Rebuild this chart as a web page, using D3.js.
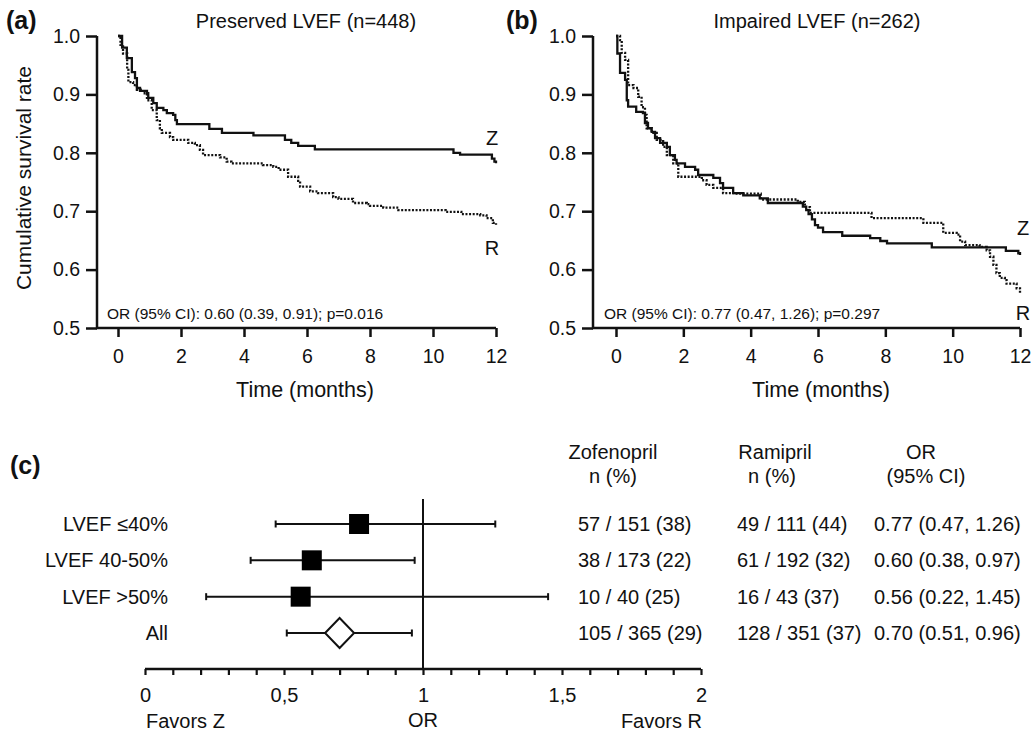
<!DOCTYPE html>
<html>
<head>
<meta charset="utf-8">
<script src="https://cdn.jsdelivr.net/npm/d3@7"></script>
<style>
  body { margin: 0; background: #fff; }
  svg text { font-family: "Liberation Sans", Arial, sans-serif; fill: #111; }
</style>
</head>
<body>
<svg id="fig" width="1033" height="733"></svg>
<script>
// ---- data ----
const timeTicks = [0, 2, 4, 6, 8, 10, 12];
const survTicks = [0.5, 0.6, 0.7, 0.8, 0.9, 1.0];

// Kaplan-Meier step points [month, survival], preserved LVEF
const preservedZ = [[0,1.0],[0.13,0.98],[0.28,0.962],[0.44,0.938],[0.54,0.928],[0.6,0.911],[0.7,0.906],
  [0.92,0.902],[0.96,0.894],[1.12,0.885],[1.23,0.877],[1.44,0.873],[1.55,0.868],[1.75,0.865],[1.82,0.856],
  [1.87,0.849],[2.9,0.841],[3.3,0.834],[4.3,0.83],[5.3,0.822],[5.5,0.817],[5.72,0.812],[6.25,0.806],
  [10.65,0.8],[10.86,0.797],[11.87,0.79],[11.95,0.785],[12,0.782]];
const preservedR = [[0,1.0],[0.08,0.985],[0.16,0.97],[0.29,0.942],[0.33,0.921],[0.48,0.916],[0.6,0.908],
  [0.8,0.902],[0.92,0.89],[1.07,0.873],[1.23,0.856],[1.33,0.842],[1.39,0.834],[1.65,0.827],[1.75,0.822],
  [2.23,0.817],[2.44,0.813],[2.6,0.805],[2.7,0.796],[3.24,0.792],[3.45,0.785],[3.6,0.782],[4.6,0.779],
  [4.93,0.776],[5.1,0.771],[5.4,0.759],[5.72,0.752],[5.78,0.742],[6.1,0.734],[6.35,0.731],[6.83,0.724],
  [7.0,0.721],[7.46,0.714],[7.9,0.712],[8.0,0.709],[8.42,0.706],[8.9,0.702],[10.4,0.699],[10.9,0.695],
  [11.5,0.693],[11.7,0.688],[11.9,0.68],[12,0.677]];

// impaired LVEF
const impairedZ = [[0,1.0],[0.04,0.97],[0.12,0.937],[0.27,0.925],[0.32,0.89],[0.36,0.879],[0.6,0.87],
  [0.8,0.868],[0.86,0.851],[0.95,0.842],[1.06,0.836],[1.16,0.825],[1.31,0.817],[1.51,0.81],[1.6,0.796],
  [1.75,0.788],[1.8,0.782],[2.05,0.776],[2.35,0.771],[2.44,0.762],[2.89,0.757],[3.09,0.748],[3.18,0.74],
  [3.48,0.731],[3.78,0.727],[4.27,0.722],[4.51,0.714],[5.55,0.708],[5.65,0.702],[5.72,0.695],[5.82,0.686],
  [5.91,0.676],[6.0,0.672],[6.15,0.664],[6.72,0.658],[7.55,0.654],[7.85,0.649],[8.05,0.645],[9.38,0.638],
  [11.58,0.632],[11.95,0.628],[12,0.625]];
const impairedR = [[0,1.0],[0.12,0.993],[0.17,0.971],[0.27,0.959],[0.36,0.916],[0.52,0.911],[0.66,0.896],
  [0.76,0.878],[0.86,0.865],[0.91,0.842],[1.06,0.834],[1.21,0.822],[1.4,0.81],[1.51,0.796],[1.7,0.782],
  [1.85,0.759],[2.55,0.753],[2.69,0.745],[2.89,0.74],[3.18,0.731],[3.55,0.73],[4.3,0.72],[5.4,0.716],
  [5.61,0.707],[5.76,0.697],[7.59,0.688],[9.13,0.68],[9.72,0.663],[10.12,0.66],[10.22,0.648],[10.37,0.642],
  [10.8,0.639],[11.01,0.633],[11.11,0.622],[11.21,0.608],[11.3,0.594],[11.4,0.586],[11.55,0.582],
  [11.6,0.576],[11.9,0.568],[12,0.56]];

// forest plot
const subgroups = ['LVEF ≤40%', 'LVEF 40-50%', 'LVEF >50%', 'All'];
const orValues = [0.77, 0.60, 0.56, 0.70];
const ciLow = [0.47, 0.38, 0.22, 0.51];
const ciHigh = [1.26, 0.97, 1.45, 0.96];
const zofenoprilText = ['57 / 151 (38)', '38 / 173 (22)', '10 / 40 (25)', '105 / 365 (29)'];
const ramiprilText = ['49 / 111 (44)', '61 / 192 (32)', '16 / 43 (37)', '128 / 351 (37)'];
const orText = ['0.77 (0.47, 1.26)', '0.60 (0.38, 0.97)', '0.56 (0.22, 1.45)', '0.70 (0.51, 0.96)'];
const orTicks = d3.range(0, 21).map(i => i / 10);
const orMajorLabels = { 0: '0', 0.5: '0,5', 1: '1', 1.5: '1,5', 2: '2' };

const svg = d3.select('#fig');
svg.append('rect').attr('width', 1033).attr('height', 733).attr('fill', '#fff');

const y = d3.scaleLinear().domain([0.5, 1.0]).range([328, 36]);

function drawKM(p) {
  const g = svg.append('g');
  const x = d3.scaleLinear().domain([0, 12]).range([p.x0, p.x1]);

  // axes
  const yAx = g.append('g').attr('transform', `translate(${p.axisX},0)`)
    .call(d3.axisLeft(y).tickValues(survTicks).tickFormat(d3.format('.1f')).tickSize(11).tickPadding(6));
  const xAx = g.append('g').attr('transform', 'translate(0,328)')
    .call(d3.axisBottom(x).tickValues(timeTicks).tickSize(9).tickPadding(12));
  [yAx, xAx].forEach(a => {
    a.select('.domain').remove();
    a.attr('font-size', null).attr('font-family', null);
    a.selectAll('line').attr('stroke', '#111').attr('stroke-width', 2.5);
    a.selectAll('text').style('font-size', '19.5px').attr('fill', '#111');
  });
  g.append('path')
    .attr('d', `M${p.axisX},${y(1.0)}V328H${x(12)}`)
    .attr('fill', 'none').attr('stroke', '#111').attr('stroke-width', 2.5);

  const line = d3.line().x(d => x(d[0])).y(d => y(d[1])).curve(d3.curveStepAfter);
  g.append('path').datum(p.zData).attr('d', line)
    .attr('fill', 'none').attr('stroke', '#111').attr('stroke-width', 2.3);
  g.append('path').datum(p.rData).attr('d', line)
    .attr('fill', 'none').attr('stroke', '#111').attr('stroke-width', 2.3)
    .attr('stroke-dasharray', '2,1.6');

  g.append('text').attr('x', p.titleX).attr('y', 28).attr('text-anchor', 'middle')
    .style('font-size', '20px').text(p.title);
  g.append('text').attr('x', p.letterX).attr('y', 29)
    .style('font-size', '25px').style('font-weight', 'bold').text(p.letter);
  g.append('text').attr('x', p.xLabelX).attr('y', 397).attr('text-anchor', 'middle')
    .style('font-size', '21.5px').text('Time (months)');
  g.append('text').attr('x', p.noteX).attr('y', 319)
    .style('font-size', '15.5px').text(p.note);
  g.append('text').attr('x', p.labelX).attr('y', p.zLabelY).attr('text-anchor', 'middle')
    .style('font-size', '20px').text('Z');
  g.append('text').attr('x', p.labelX).attr('y', p.rLabelY).attr('text-anchor', 'middle')
    .style('font-size', '20px').text('R');
}

drawKM({
  axisX: 97, x0: 118, x1: 496, zData: preservedZ, rData: preservedR,
  title: 'Preserved LVEF (n=448)', titleX: 306, letter: '(a)', letterX: 6,
  xLabelX: 305, note: 'OR (95% CI): 0.60 (0.39, 0.91); p=0.016', noteX: 107,
  labelX: 492, zLabelY: 145, rLabelY: 255
});
drawKM({
  axisX: 593, x0: 616, x1: 1020, zData: impairedZ, rData: impairedR,
  title: 'Impaired LVEF (n=262)', titleX: 817, letter: '(b)', letterX: 506,
  xLabelX: 821, note: 'OR (95% CI): 0.77 (0.47, 1.26); p=0.297', noteX: 604,
  labelX: 1023, zLabelY: 235, rLabelY: 320
});

svg.append('text')
  .attr('transform', 'translate(31,178) rotate(-90)')
  .attr('text-anchor', 'middle').style('font-size', '21px')
  .text('Cumulative survival rate');

// ---- (c) forest plot ----
const fg = svg.append('g');
const fx = d3.scaleLinear().domain([0, 2]).range([145, 701]);
const fy = d3.scalePoint().domain(subgroups).range([524, 633]);

fg.append('text').attr('x', 10).attr('y', 474)
  .style('font-size', '25px').style('font-weight', 'bold').text('(c)');

const fAx = fg.append('g').attr('transform', 'translate(0,669)')
  .call(d3.axisBottom(fx).tickValues(orTicks)
    .tickFormat(d => orMajorLabels[Math.round(d * 10) / 10] || '')
    .tickSize(6).tickPadding(13));
fAx.select('.domain').remove();
fAx.attr('font-size', null).attr('font-family', null);
fAx.selectAll('line').attr('stroke', '#111').attr('stroke-width', 2.2);
fAx.selectAll('text').style('font-size', '20px').attr('fill', '#111');
fg.append('line').attr('x1', fx(0)).attr('x2', fx(2)).attr('y1', 669).attr('y2', 669)
  .attr('stroke', '#111').attr('stroke-width', 2.5);
fg.append('line').attr('x1', fx(1)).attr('x2', fx(1)).attr('y1', 499).attr('y2', 669)
  .attr('stroke', '#111').attr('stroke-width', 2);

subgroups.forEach((s, i) => {
  const cy = fy(s);
  fg.append('line').attr('x1', fx(ciLow[i])).attr('x2', fx(ciHigh[i]))
    .attr('y1', cy).attr('y2', cy).attr('stroke', '#111').attr('stroke-width', 2);
  [ciLow[i], ciHigh[i]].forEach(v => {
    fg.append('line').attr('x1', fx(v)).attr('x2', fx(v))
      .attr('y1', cy - 3.5).attr('y2', cy + 3.5).attr('stroke', '#111').attr('stroke-width', 2);
  });
  const cx = fx(orValues[i]);
  if (s === 'All') {
    fg.append('path')
      .attr('d', `M${cx - 14.5},${cy}L${cx},${cy - 15}L${cx + 14.5},${cy}L${cx},${cy + 15}Z`)
      .attr('fill', '#fff').attr('stroke', '#111').attr('stroke-width', 2);
  } else {
    fg.append('rect').attr('x', cx - 10).attr('y', cy - 10).attr('width', 20).attr('height', 20)
      .attr('fill', '#000');
  }
  fg.append('text').attr('x', 168).attr('y', cy + 7).attr('text-anchor', 'end')
    .style('font-size', '20px').text(s);
  fg.append('text').attr('x', 578).attr('y', cy + 7).style('font-size', '20px').text(zofenoprilText[i]);
  fg.append('text').attr('x', 737).attr('y', cy + 7).style('font-size', '20px').text(ramiprilText[i]);
  fg.append('text').attr('x', 874).attr('y', cy + 7).style('font-size', '20px').text(orText[i]);
});

const headers = [
  ['Zofenopril', 613, 459], ['n (%)', 613, 483],
  ['Ramipril', 775, 459], ['n (%)', 772, 483],
  ['OR', 921, 459], ['(95% CI)', 926, 483]
];
headers.forEach(h => {
  fg.append('text').attr('x', h[1]).attr('y', h[2]).attr('text-anchor', 'middle')
    .style('font-size', '20px').text(h[0]);
});

fg.append('text').attr('x', 146).attr('y', 728).style('font-size', '20px').text('Favors Z');
fg.append('text').attr('x', fx(1)).attr('y', 727).attr('text-anchor', 'middle')
  .style('font-size', '20px').text('OR');
fg.append('text').attr('x', 702).attr('y', 728).attr('text-anchor', 'end')
  .style('font-size', '20px').text('Favors R');
</script>
</body>
</html>
